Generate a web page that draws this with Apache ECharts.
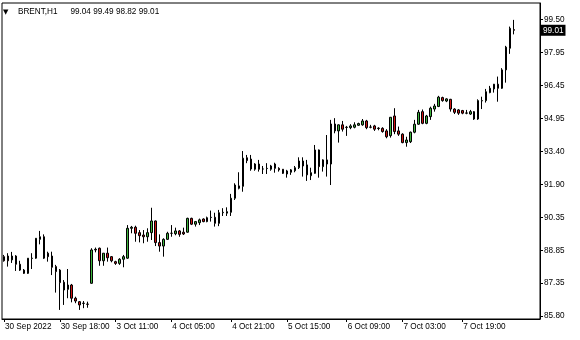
<!DOCTYPE html>
<html><head><meta charset="utf-8">
<script src="https://cdn.jsdelivr.net/npm/echarts@6/dist/echarts.min.js"></script>
<style>html,body{margin:0;padding:0;background:#fff}#c{width:580px;height:340px}</style>
</head><body><div id="c"></div>
<script>
const symbol = 'BRENT';
const timeframe = 'H1';

const open = [
88.55,88.58,88.40,88.58,88.20,87.93,87.78,88.47,88.48,89.35,
89.47,88.71,88.58,88.09,87.93,87.37,87.04,87.24,86.63,86.47,
86.39,86.36,87.32,88.86,88.94,88.36,88.71,88.55,88.32,88.24,
88.43,88.48,89.86,89.91,89.66,89.55,89.47,89.66,90.20,89.20,
89.04,89.35,89.63,89.61,89.74,89.68,89.68,90.32,90.05,90.12,
90.29,90.17,90.36,90.37,90.09,90.58,90.56,90.60,91.25,91.71,
91.80,93.12,93.06,92.59,92.83,92.60,92.62,92.59,92.83,92.63,
92.59,92.37,92.45,92.52,92.66,92.97,92.79,92.29,92.40,93.48,
92.71,93.02,92.83,94.68,94.36,94.64,94.52,94.51,94.53,94.62,
94.64,94.82,94.53,94.59,94.49,94.48,94.36,94.14,95.05,94.36,
94.21,93.82,93.86,94.30,94.67,95.25,94.71,95.02,95.37,95.49,
95.90,95.74,95.82,95.37,95.33,95.30,95.18,95.14,95.25,94.91,
95.75,95.76,96.13,96.30,96.52,96.33,97.18,98.18,99.04];

const high = [
88.63,88.71,88.77,88.62,88.36,87.98,88.48,88.71,89.41,89.74,
89.58,88.78,88.78,88.17,87.98,87.47,87.98,87.29,86.70,86.50,
86.50,86.47,88.94,88.97,88.97,88.71,88.97,88.58,88.36,88.48,
88.63,90.01,89.97,89.98,89.78,89.78,89.86,90.81,90.22,89.58,
89.40,89.70,90.01,89.89,89.78,89.89,90.35,90.35,90.20,90.31,
90.32,90.40,90.68,90.58,90.71,90.79,90.83,91.45,91.94,92.45,
93.43,93.25,93.25,92.87,93.02,92.74,92.87,92.79,92.89,92.68,
92.60,92.56,92.60,92.74,93.14,93.14,93.02,92.66,93.71,93.50,
93.05,94.17,94.87,94.95,94.66,94.82,94.59,94.67,94.76,94.74,
94.91,94.87,94.64,94.64,94.53,94.53,94.44,95.00,95.41,94.56,
94.25,94.09,94.33,94.87,95.33,95.35,95.10,95.48,95.61,95.98,
95.94,95.87,95.84,95.41,95.37,95.33,95.33,95.33,95.28,95.82,
95.94,96.30,96.44,96.53,96.87,97.26,98.29,99.18,99.49];

const low = [
88.32,88.09,88.26,87.89,87.89,87.75,87.75,87.98,88.45,89.12,
88.44,88.32,87.70,86.89,86.09,86.32,86.63,86.44,86.40,86.09,
86.17,86.19,87.30,88.75,88.13,88.13,88.32,88.29,88.17,88.17,
88.06,88.45,89.63,89.24,89.21,89.17,89.24,89.32,89.04,88.78,
88.55,89.32,89.47,89.54,89.47,89.55,89.66,90.01,89.94,90.01,
90.14,90.14,90.17,89.94,89.96,90.43,90.43,90.43,91.17,91.66,
91.55,92.87,92.52,92.52,92.48,92.37,92.37,92.52,92.43,92.48,
92.37,92.20,92.33,92.45,92.60,92.25,92.05,92.09,92.38,92.20,
92.48,92.25,91.86,94.25,93.82,94.33,94.13,94.44,94.48,94.59,
94.60,94.44,94.48,94.36,94.39,94.28,94.02,94.05,94.21,94.13,
93.79,93.63,93.80,94.25,94.64,94.67,94.67,94.87,95.25,95.46,
95.71,95.69,95.25,95.14,95.10,95.13,95.13,95.10,94.87,94.87,
95.37,95.67,96.10,96.13,95.71,96.30,96.59,97.92,98.82];

const close = [
88.36,88.36,88.58,88.20,87.93,87.78,88.48,88.48,89.40,89.47,
88.48,88.55,88.06,87.86,87.35,87.01,87.24,86.63,86.50,86.32,
86.40,86.35,88.86,88.89,88.36,88.71,88.50,88.36,88.24,88.43,
88.55,89.86,89.91,89.63,89.52,89.47,89.66,90.20,89.20,89.04,
89.35,89.63,89.63,89.74,89.58,89.60,90.32,90.05,90.17,90.25,
90.17,90.35,90.37,90.09,90.58,90.60,90.63,91.25,91.86,91.82,
93.10,92.99,92.60,92.83,92.59,92.60,92.63,92.74,92.63,92.56,
92.40,92.51,92.56,92.66,92.97,92.74,92.33,92.43,93.48,92.71,
93.02,92.83,94.68,94.36,94.64,94.44,94.53,94.59,94.64,94.70,
94.82,94.51,94.54,94.44,94.47,94.33,94.09,94.99,94.33,94.21,
93.82,93.94,94.30,94.67,95.22,94.71,95.05,95.41,95.51,95.92,
95.76,95.84,95.37,95.22,95.18,95.18,95.19,95.25,94.91,95.76,
95.76,96.17,96.33,96.52,96.33,97.18,98.23,99.10,99.01];

const timeLabels = ['30 Sep 2022','30 Sep 18:00','3 Oct 11:00','4 Oct 05:00','4 Oct 21:00','5 Oct 15:00','6 Oct 09:00','7 Oct 03:00','7 Oct 19:00'];
const timeLabelBars = [0,14,28,42,57,71,86,100,115];
const priceLabels = ['85.80','87.35','88.85','90.35','91.90','93.40','94.95','96.45','97.95','99.50'];
const emptyBarsRight = 6;

const F = 'Liberation Sans';
const FS = 8.2;
const n = open.length;
const cats = Array.from({length: n + emptyBarsRight}, (_, i) => String(i));
const labelMap = {};
timeLabelBars.forEach((b, k) => { labelMap[b] = timeLabels[k]; });
const showIdx = (i) => labelMap[i] !== undefined;

const pLow = parseFloat(priceLabels[0]);
const pHigh = parseFloat(priceLabels[priceLabels.length - 1]);
const pStep = (pHigh - pLow) / (priceLabels.length - 1);
const tickVals = priceLabels.map((_, k) => pLow + k * pStep);
const fmtPrice = (v) => {
  let best = 0, bd = Infinity;
  tickVals.forEach((t, k) => { const d = Math.abs(t - v); if (d < bd) { bd = d; best = k; } });
  return priceLabels[best];
};

const ohlcText = [open[n-1], high[n-1], low[n-1], close[n-1]].map(v => v.toFixed(2)).join(' ');

const chart = echarts.init(document.getElementById('c'), null, {renderer: 'canvas'});
chart.setOption({
  animation: false,
  backgroundColor: '#fff',
  title: {
    left: 3, top: 8, padding: 0,
    text: '{a|\u25BC}{b|' + symbol + ',' + timeframe + '}{c|' + ohlcText + '}',
    textStyle: {
      fontWeight: 'normal',
      rich: {
        a: {width: 15, fontSize: 7, fontFamily: 'DejaVu Sans', color: '#000', fontWeight: 'normal'},
        b: {width: 52.4, fontSize: FS, fontFamily: F, color: '#000', fontWeight: 'normal'},
        c: {fontSize: FS, fontFamily: F, color: '#000', fontWeight: 'normal'}
      }
    }
  },
  grid: {left: 2, right: 40, top: 3, bottom: 21, show: true, borderColor: '#000', borderWidth: 1, backgroundColor: '#fff'},
  xAxis: {
    type: 'category', data: cats, boundaryGap: true,
    axisLine: {show: true, lineStyle: {color: '#000', width: 1}},
    axisTick: {show: true, alignWithLabel: true, interval: showIdx, length: 3, lineStyle: {color: '#000'}},
    axisLabel: {interval: showIdx, formatter: (v, i) => labelMap[i] || '', align: 'left',
      color: '#000', fontSize: FS, fontFamily: F, margin: 4, padding: [0, 0, 0, 1]},
    splitLine: {show: false}
  },
  yAxis: {
    type: 'value', position: 'right', min: 85.67, max: 100.27, scale: true,
    axisLine: {show: true, lineStyle: {color: '#000', width: 1}},
    axisTick: {show: true, length: 3, lineStyle: {color: '#000'}, customValues: tickVals},
    axisLabel: {customValues: tickVals, formatter: fmtPrice, color: '#000', fontSize: FS, fontFamily: F, margin: 4, align: 'left'},
    splitLine: {show: false}
  },
  series: [{
    type: 'candlestick',
    data: open.map((o, i) => [o, close[i], low[i], high[i]]),
    barWidth: 2,
    itemStyle: {color: '#3cb43c', color0: '#d01414', borderColor: '#000', borderColor0: '#000', borderColorDoji: '#000', borderWidth: 1},
    markLine: {
      silent: true, symbol: ['none', 'none'], animation: false,
      lineStyle: {color: 'rgba(0,0,0,0)', width: 0},
      label: {show: true, position: 'end', distance: 1, formatter: () => close[n-1].toFixed(2),
        backgroundColor: '#000', color: '#fff', padding: [2, 2, 1, 2], fontSize: FS, fontFamily: F},
      data: [{yAxis: close[n-1]}]
    }
  }]
});
</script>
</body></html>
